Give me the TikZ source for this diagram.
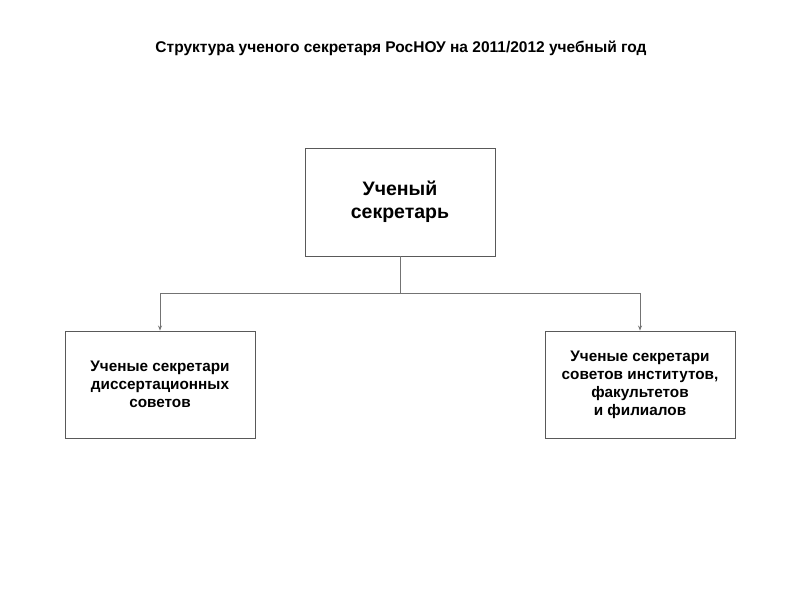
\documentclass[tikz,border=0pt]{standalone}
\usepackage{fontspec}
\setmainfont{Liberation Sans}
\usetikzlibrary{arrows.meta}
\begin{document}
\begin{tikzpicture}[x=1pt,y=-1pt,
  box/.style={draw=black!65,line width=0.9pt,minimum width=190pt,inner sep=0pt,align=center,font=\bfseries\fontsize{15.3}{18}\selectfont},
  conn/.style={draw=black!55,line width=1pt},
  tip/.style={-{Stealth[length=5pt,width=4pt]}}]
\useasboundingbox (0,0) rectangle (800,600);
\node[font=\bfseries\fontsize{15.5}{18}\selectfont] (title) at (401,48) {Структура ученого секретаря РосНОУ на 2011/2012 учебный год};
\node[box,minimum height=108pt,font=\bfseries\fontsize{19.5}{23.5}\selectfont] (top) at (400,202) {Ученый\\секретарь};
\node[box,minimum height=107pt] (left) at (160,384.5) {Ученые секретари\\диссертационных\\советов};
\node[box,minimum height=107pt] (right) at (640,384.5) {Ученые секретари\\советов институтов,\\факультетов\\и филиалов};
\coordinate (mid) at (400,293);
\draw[conn] (top.south) -- (mid);
\draw[conn,tip] (mid) -| (left.north);
\draw[conn,tip] (mid) -| (right.north);
\end{tikzpicture}
\end{document}
